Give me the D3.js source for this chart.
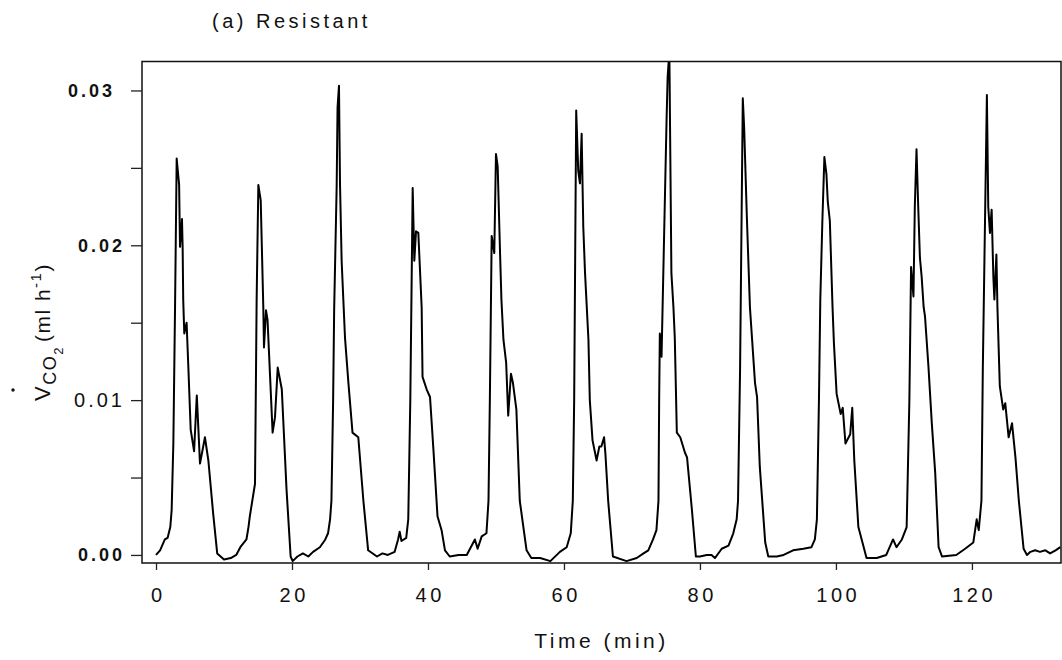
<!DOCTYPE html>
<html>
<head>
<meta charset="utf-8">
<script src="https://cdn.jsdelivr.net/npm/d3@7"></script>
<style>
  body { margin: 0; background: #fff; }
  text { font-family: "Liberation Sans", Arial, sans-serif; fill: #111; }
</style>
</head>
<body>
<div id="app"></div>
<script>
// CO2 trace
const time = [0, 0.6, 1.3, 1.7, 2.1, 2.3, 2.55, 2.8, 3.04, 3.4, 3.53, 3.82, 3.92, 4.0, 4.16, 4.5, 4.75, 5.1, 5.6, 6.0, 6.47, 7.2, 7.7, 8.4, 9.0, 10.0, 11.0, 11.8, 12.4, 13.3, 13.6, 13.8, 14.56, 14.8,
  15.05, 15.4, 15.78, 15.88, 16.18, 16.4, 17.15, 17.5, 17.9, 18.5, 19.2, 19.8, 20.1, 20.8, 21.6, 22.4, 23.1, 24.1, 24.9, 25.3, 25.6, 25.8, 26.05, 26.2, 26.57, 26.7,
  26.91, 27.06, 27.3, 27.8, 28.3, 28.9, 29.75, 30.5, 31.2, 32.5, 33.3, 34.1, 35.1, 35.6, 35.84, 36.1, 36.8, 37.1, 37.4,
  37.75, 37.99, 38.24, 38.58, 39.07, 39.2, 39.8, 40.3, 40.8, 41.4, 42.0, 42.5, 43.2, 44.5, 45.7, 46.9, 47.3, 47.9, 48.6, 48.9, 49.1,
  49.37, 49.75, 50.0, 50.25, 50.6, 50.8, 51.1, 51.5, 51.8, 52.2, 52.5, 53.0, 53.5, 54.5, 55.2, 56.5, 58.0, 59.4, 60.4, 61.0, 61.3, 61.5,
  61.8, 62.1, 62.35, 62.6, 62.84, 63.1, 63.6, 63.8, 64.2, 64.8, 65.2, 65.5, 65.9, 66.1, 66.5, 67.2, 69.2, 70.7, 71.7, 72.4, 73.1, 73.6, 73.9, 74.0, 74.1, 74.35,
  75.1, 75.25, 75.5, 75.8, 76.1, 76.3, 76.6, 77.1, 77.8, 78.1, 78.8, 79.4, 80.0, 81.0, 81.7, 82.2, 83.2, 84.2, 84.9, 85.4, 85.6, 85.9,
  86.3, 86.5, 86.9, 87.35, 88.1, 88.4, 88.8, 89.6, 90.05, 91.3, 92.3, 93.7, 95.2, 96.4, 96.9, 97.2, 97.5, 97.7,
  98.0, 98.3, 98.6, 98.8, 99.1, 99.5, 99.7, 100.1, 100.7, 101.0, 101.4, 102.1, 102.4, 102.7, 103.3, 104.5, 106.0, 107.4, 108.4, 108.9, 109.7, 110.4, 110.8,
  111.05, 111.4, 111.6, 111.85, 112.1, 112.35, 112.6, 112.9, 113.1, 113.6, 114.1, 114.6, 115.1, 115.6, 117.7, 119.0, 120.2, 120.7, 121.0, 121.4, 121.6,
  122.2, 122.4, 122.65, 122.9, 123.15, 123.3, 123.6, 123.75, 124.1, 124.6, 124.9, 125.4, 125.9, 126.4, 126.9, 127.6, 128.1, 128.6, 129.3, 130.0, 130.8, 131.5, 132.3, 133.0]
const vco2 = [0.0000, 0.0003, 0.0010, 0.0011, 0.0018, 0.0029, 0.0072, 0.0160, 0.0256, 0.0239, 0.0199, 0.0217, 0.0198, 0.0165, 0.0143, 0.0150, 0.0122, 0.0081, 0.0067, 0.0103, 0.0059, 0.0076, 0.0061, 0.0027, 0.0001, -0.0003, -0.0002, 0.0000, 0.0005, 0.0010, 0.0018, 0.0025, 0.0046, 0.0165,
  0.0239, 0.0229, 0.0160, 0.0134, 0.0158, 0.0152, 0.0079, 0.0089, 0.0121, 0.0107, 0.0042, -0.0001, -0.0004, -0.0001, 0.0001, -0.0001, 0.0002, 0.0005, 0.0010, 0.0014, 0.0023, 0.0035, 0.0100, 0.0158, 0.0238, 0.0289,
  0.0303, 0.0240, 0.0190, 0.0140, 0.0111, 0.0079, 0.0076, 0.0035, 0.0003, -0.0001, 0.0001, 0.0000, 0.0002, 0.0010, 0.0015, 0.0009, 0.0011, 0.0023, 0.0100,
  0.0237, 0.0190, 0.0209, 0.0208, 0.0160, 0.0115, 0.0107, 0.0102, 0.0068, 0.0025, 0.0016, 0.0003, -0.0001, 0.0000, 0.0000, 0.0010, 0.0004, 0.0012, 0.0014, 0.0035, 0.0100,
  0.0206, 0.0195, 0.0259, 0.0251, 0.0195, 0.0165, 0.0139, 0.0124, 0.0090, 0.0117, 0.0111, 0.0094, 0.0035, 0.0003, -0.0002, -0.0002, -0.0004, 0.0002, 0.0005, 0.0014, 0.0035, 0.0100,
  0.0287, 0.0248, 0.0240, 0.0272, 0.0212, 0.0182, 0.0139, 0.0100, 0.0074, 0.0061, 0.0070, 0.0070, 0.0076, 0.0065, 0.0035, -0.0001, -0.0004, -0.0002, 0.0001, 0.0003, 0.0010, 0.0016, 0.0035, 0.0100, 0.0143, 0.0128,
  0.0283, 0.0309, 0.0325, 0.0182, 0.0160, 0.0140, 0.0079, 0.0076, 0.0066, 0.0063, 0.0030, -0.0001, -0.0001, 0.0000, 0.0000, -0.0002, 0.0004, 0.0006, 0.0014, 0.0023, 0.0035, 0.0120,
  0.0295, 0.0276, 0.0218, 0.0160, 0.0111, 0.0102, 0.0057, 0.0008, -0.0001, -0.0001, 0.0000, 0.0003, 0.0004, 0.0005, 0.0010, 0.0023, 0.0100, 0.0165,
  0.0215, 0.0257, 0.0246, 0.0228, 0.0216, 0.0160, 0.0137, 0.0104, 0.0091, 0.0095, 0.0072, 0.0078, 0.0095, 0.0061, 0.0018, -0.0002, -0.0002, 0.0000, 0.0010, 0.0005, 0.0010, 0.0018, 0.0100,
  0.0186, 0.0167, 0.0225, 0.0262, 0.0225, 0.0192, 0.0180, 0.0160, 0.0154, 0.0122, 0.0085, 0.0053, 0.0005, -0.0001, 0.0000, 0.0004, 0.0008, 0.0023, 0.0016, 0.0035, 0.0120,
  0.0297, 0.0225, 0.0208, 0.0223, 0.0180, 0.0165, 0.0194, 0.0160, 0.0109, 0.0094, 0.0098, 0.0076, 0.0085, 0.0063, 0.0035, 0.0004, 0.0000, 0.0002, 0.0003, 0.0002, 0.0003, 0.0001, 0.0003, 0.0005]

const xTicks = [0, 20, 40, 60, 80, 100, 120]
const yTicks = [0, 0.005, 0.01, 0.015, 0.02, 0.025, 0.03]
const yLabels = ["0.00", "", "0.01", "", "0.02", "", "0.03"]

const title = "(a) Resistant"
const xTitle = "Time (min)"

let width = 1062
let height = 660
let margin = {top: 61.5, right: 1, bottom: 97, left: 142}

let svg = d3.select("#app").append("svg")
    .attr("width", width)
    .attr("height", height)

let x = d3.scaleLinear().domain([-2.06, 133.1]).range([margin.left, width - margin.right])
let y = d3.scaleLinear().domain([-0.00052, 0.03187]).range([height - margin.bottom, margin.top])

let data = time.map((t, i) => ({t: t, v: vco2[i]}))

// clip so the tall spike stops at the frame
svg.append("clipPath").attr("id", "plot")
  .append("rect")
    .attr("x", x.range()[0]).attr("y", y.range()[1])
    .attr("width", x.range()[1] - x.range()[0])
    .attr("height", y.range()[0] - y.range()[1])

let line = d3.line().x(d => x(d.t)).y(d => y(d.v))

svg.append("path")
    .datum(data)
    .attr("clip-path", "url(#plot)")
    .attr("fill", "none")
    .attr("stroke", "#000")
    .attr("stroke-width", 2)
    .attr("stroke-linejoin", "round")
    .attr("d", line)

// frame
svg.append("rect")
    .attr("x", x.range()[0]).attr("y", y.range()[1])
    .attr("width", x.range()[1] - x.range()[0])
    .attr("height", y.range()[0] - y.range()[1])
    .attr("fill", "none")
    .attr("stroke", "#111")
    .attr("stroke-width", 1.5)

// x axis
let xAxis = svg.append("g")
    .attr("transform", "translate(0," + y.range()[0] + ")")
    .call(d3.axisBottom(x).tickValues(xTicks).tickSize(7).tickPadding(18).tickFormat(d3.format("d")))
xAxis.select(".domain").remove()
xAxis.selectAll("line").attr("stroke", "#222").attr("stroke-width", 1.3)
xAxis.selectAll("text")
    .attr("font-size", 20)
    .attr("letter-spacing", "3.5px")
    .attr("dx", "1.75px")
    .style("fill", "#111")

// y axis
let yAxis = svg.append("g")
    .attr("transform", "translate(" + x.range()[0] + ",0)")
    .call(d3.axisLeft(y).tickValues(yTicks).tickSize(11).tickPadding(9)
        .tickFormat((d, i) => yLabels[i]))
yAxis.select(".domain").remove()
yAxis.selectAll("line").attr("stroke", "#222").attr("stroke-width", 1.3)
yAxis.selectAll("text")
    .attr("font-size", d => d === 0.01 ? 20 : 18)
    .attr("font-weight", d => d === 0.01 ? "normal" : "bold")
    .attr("letter-spacing", "3px")
    .attr("dx", d => d === 0.03 ? "-7px" : "3px")
    .style("fill", "#111")

// titles
svg.append("text")
    .attr("x", 212).attr("y", 28)
    .attr("font-size", 20)
    .attr("letter-spacing", "3.5px")
    .text(title)

svg.append("text")
    .attr("x", (x.range()[0] + x.range()[1]) / 2).attr("y", 648)
    .attr("text-anchor", "middle")
    .attr("font-size", 21)
    .attr("letter-spacing", "3.5px")
    .text(xTitle)

// y label: V-dot CO2 (ml h-1)
let yl = svg.append("text")
    .attr("transform", "translate(50,401) rotate(-90)")
    .attr("font-size", 22)
    .attr("letter-spacing", "1.5px")
yl.append("tspan").text("V")
yl.append("tspan").attr("font-size", 18).attr("dy", 6).text("CO")
yl.append("tspan").attr("font-size", 13).attr("dy", 7).text("2")
yl.append("tspan").attr("font-size", 21).attr("dy", -13).attr("dx", 4).text("(ml h")
yl.append("tspan").attr("font-size", 15).attr("dy", -9).text("-1")
yl.append("tspan").attr("font-size", 21).attr("dy", 9).text(")")

svg.append("circle")
    .attr("cx", 13).attr("cy", 390)
    .attr("r", 1.7)
    .attr("fill", "#111")
</script>
</body>
</html>
